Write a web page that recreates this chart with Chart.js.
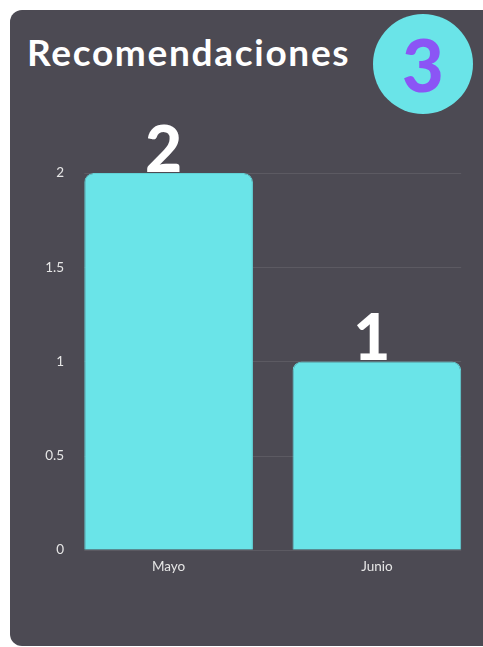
<!DOCTYPE html>
<html>
<head>
<meta charset="utf-8">
<script src="https://cdn.jsdelivr.net/npm/chart.js@4.4.0/dist/chart.umd.min.js"></script>
<style>
  html, body { margin: 0; padding: 0; background: #ffffff; overflow: hidden; }
  .card {
    position: absolute; left: 10px; top: 10px; width: 500px; height: 636px;
    background: #4c4a53; border-radius: 12px; overflow: hidden;
    font-family: Lato, "Open Sans", sans-serif;
  }
  .title {
    position: absolute; left: 17px; top: 23px; margin: 0; line-height: 1;
    color: #ffffff; font-size: 37px; font-weight: 700; letter-spacing: 1.7px;
  }
  .badge {
    position: absolute; left: 363px; top: 4px; width: 100px; height: 100px;
    border-radius: 50%; background: #6ae4e8; color: #8b55f5;
    font-size: 72px; font-weight: 900; text-align: center; line-height: 100px;
  }
  .chart-box { position: absolute; left: 20px; top: 103px; width: 451px; height: 463px; }
</style>
</head>
<body>
<div class="card">
  <h1 class="title">Recomendaciones</h1>
  <div class="badge">3</div>
  <div class="chart-box"><canvas id="myChart"></canvas></div>
</div>
<script>
const months = ['Mayo', 'Junio'];
const recommendations = [2, 1];
const yTicks = [0, 0.5, 1, 1.5, 2];

// horizontal guide lines, only between the outer edges of the bars
const barGrid = {
    id: 'barGrid',
    beforeDatasetsDraw(chart) {
        const bars = chart.getDatasetMeta(0).data;
        const first = bars[0], last = bars[bars.length - 1];
        const x0 = first.x - first.width / 2;
        const x1 = last.x + last.width / 2;
        const y = chart.scales.y;
        const ctx = chart.ctx;
        ctx.save();
        ctx.strokeStyle = 'rgba(255,255,255,0.09)';
        ctx.lineWidth = 1;
        y.ticks.forEach(t => {
            const py = Math.round(y.getPixelForValue(t.value)) + 0.5;
            ctx.beginPath();
            ctx.moveTo(x0, py);
            ctx.lineTo(x1, py);
            ctx.stroke();
        });
        ctx.restore();
    }
};

// big value printed above each bar
const valueLabels = {
    id: 'valueLabels',
    afterDatasetsDraw(chart) {
        const ctx = chart.ctx;
        const meta = chart.getDatasetMeta(0);
        ctx.save();
        ctx.fillStyle = '#ffffff';
        ctx.font = '900 64px Lato, sans-serif';
        ctx.textAlign = 'center';
        ctx.textBaseline = 'alphabetic';
        meta.data.forEach((bar, i) => {
            ctx.fillText(String(recommendations[i]), bar.x - 5, bar.y - 1);
        });
        ctx.restore();
    }
};

const ctx = document.getElementById('myChart').getContext('2d');
const myChart = new Chart(ctx, {
    type: 'bar',
    data: {
        labels: months,
        datasets: [{
            label: 'Recomendaciones',
            data: recommendations,
            backgroundColor: '#6ae4e8',
            borderColor: '#62d2d6',
            borderWidth: 1,
            borderRadius: { topLeft: 9, topRight: 9 },
            borderSkipped: 'bottom',
            barPercentage: 0.81,
            categoryPercentage: 1
        }]
    },
    options: {
        responsive: true,
        maintainAspectRatio: false,
        animation: false,
        layout: { padding: { top: 60, right: 0, left: 0, bottom: 0 } },
        plugins: {
            legend: { display: false },
            tooltip: { enabled: false }
        },
        scales: {
            x: {
                grid: { display: false },
                border: { display: false },
                ticks: { color: '#e6e6e6', font: { family: 'Lato', size: 13.5 }, padding: 1 }
            },
            y: {
                min: 0,
                max: 2,
                afterBuildTicks: axis => { axis.ticks = yTicks.map(v => ({ value: v })); },
                afterFit: axis => { axis.width = 34.5; },
                grid: { display: false },
                border: { display: false },
                ticks: {
                    color: '#e6e6e6',
                    font: { family: 'Lato', size: 13.5 },
                    padding: -7.5,
                    callback: v => String(v)
                }
            }
        }
    },
    plugins: [barGrid, valueLabels]
});
</script>
</body>
</html>
